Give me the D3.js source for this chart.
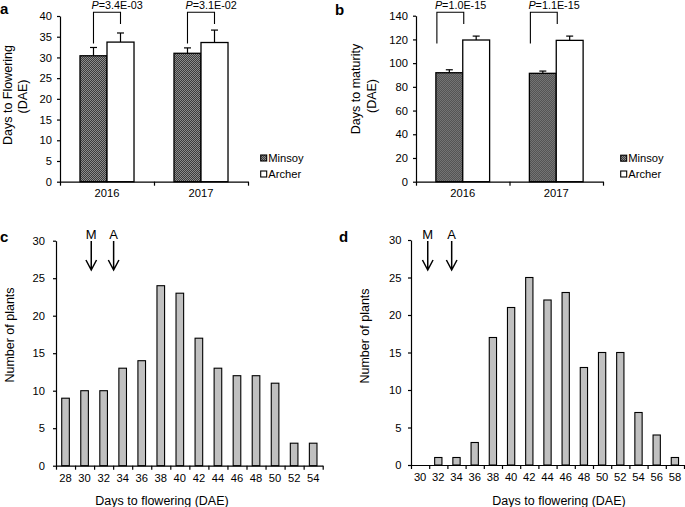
<!DOCTYPE html>
<html>
<head>
<meta charset="utf-8">
<script src="https://cdn.jsdelivr.net/npm/d3@7"></script>
<style>
  body { margin: 0; background: #fff; }
  svg { display: block; font-family: "Liberation Sans", Arial, sans-serif; }
  .axis path, .axis line { stroke: #000; stroke-width: 1.2; }
  .axis text { fill: #000; }
</style>
</head>
<body>
<div id="chart"></div>
<script>
// ---- data ----
const years = ["2016", "2017"];
const cultivars = ["Minsoy", "Archer"];

// panel a: days to flowering
const flowerMinsoy = [30.4, 31.0];
const flowerMinsoyErr = [2.0, 1.3];
const flowerArcher = [33.7, 33.6];
const flowerArcherErr = [2.2, 3.0];
const flowerP = ["3.4E-03", "3.1E-02"];

// panel b: days to maturity
const maturityMinsoy = [91.9, 91.4];
const maturityMinsoyErr = [2.5, 1.9];
const maturityArcher = [119.5, 119.2];
const maturityArcherErr = [3.3, 3.6];
const maturityP = ["1.0E-15", "1.1E-15"];

// panel c / d: histograms of days to flowering
const binsC = [28, 30, 32, 34, 36, 38, 40, 42, 44, 46, 48, 50, 52, 54];
const countsC = [9, 10, 10, 13, 14, 24, 23, 17, 13, 12, 12, 11, 3, 3];
const binsD = [30, 32, 34, 36, 38, 40, 42, 44, 46, 48, 50, 52, 54, 56, 58];
const countsD = [0, 1, 1, 3, 17, 21, 25, 22, 23, 13, 15, 15, 7, 4, 1];

// parent means marked by arrows
const parentLabels = ["M", "A"];
const parentsC = [30.7, 33.05];
const parentsD = [30.84, 33.47];

const W = 685, H = 507;
const svg = d3.select("#chart").append("svg")
  .attr("width", W)
  .attr("height", H);

// checkered fill used for Minsoy
const defs = svg.append("defs");
const pat = defs.append("pattern")
  .attr("id", "checker")
  .attr("width", 2).attr("height", 2)
  .attr("patternUnits", "userSpaceOnUse");
pat.append("rect").attr("width", 2).attr("height", 2).attr("fill", "#3c3c3c");
pat.append("rect").attr("width", 1).attr("height", 1).attr("fill", "#8c8c8c");
pat.append("rect").attr("x", 1).attr("y", 1).attr("width", 1).attr("height", 1).attr("fill", "#8c8c8c");

const fills = { Minsoy: "url(#checker)", Archer: "#fff" };
const tickFont = 11.2;

function panelLetter(txt, x, y) {
  svg.append("text")
    .attr("x", x).attr("y", y)
    .attr("font-size", 15).attr("font-weight", "bold")
    .text(txt);
}

function groupedPanel(o) {
  const g = svg.append("g").attr("transform", `translate(${o.left},${o.top})`);
  const w = o.width, h = o.height;

  const x0 = d3.scaleBand().domain(years).range([0, w]).padding(0);
  const x1 = d3.scaleBand().domain(cultivars).range([0, x0.bandwidth()])
    .paddingInner(0).paddingOuter(0.74);
  const y = d3.scaleLinear().domain([0, o.max]).range([h, 0]);

  const rows = [];
  years.forEach((yr, i) => {
    rows.push({ year: yr, cv: "Minsoy", v: o.minsoy[i], e: o.minsoyErr[i] });
    rows.push({ year: yr, cv: "Archer", v: o.archer[i], e: o.archerErr[i] });
  });

  // error bars (upper only, drawn behind the bars)
  const eb = g.selectAll("g.err").data(rows).enter().append("g")
    .attr("stroke", "#000").attr("stroke-width", 1.2);
  eb.append("line")
    .attr("x1", d => x0(d.year) + x1(d.cv) + x1.bandwidth() / 2)
    .attr("x2", d => x0(d.year) + x1(d.cv) + x1.bandwidth() / 2)
    .attr("y1", d => y(d.v))
    .attr("y2", d => y(d.v + d.e));
  eb.append("line")
    .attr("x1", d => x0(d.year) + x1(d.cv) + x1.bandwidth() / 2 - 3.5)
    .attr("x2", d => x0(d.year) + x1(d.cv) + x1.bandwidth() / 2 + 3.5)
    .attr("y1", d => y(d.v + d.e))
    .attr("y2", d => y(d.v + d.e));

  g.selectAll("rect.bar").data(rows).enter().append("rect")
    .attr("x", d => x0(d.year) + x1(d.cv))
    .attr("y", d => y(d.v))
    .attr("width", x1.bandwidth())
    .attr("height", d => h - y(d.v))
    .attr("fill", d => fills[d.cv])
    .attr("stroke", "#000")
    .attr("stroke-width", 1.3);

  // axes
  g.append("g").attr("class", "axis")
    .call(d3.axisLeft(y).tickValues(d3.range(0, o.max + 1, o.step))
      .tickSize(3).tickPadding(5).tickSizeOuter(0))
    .call(a => a.selectAll("text").attr("font-size", tickFont));

  const xb = d3.scaleLinear().domain([0, years.length]).range([0, w]);
  g.append("g").attr("class", "axis")
    .attr("transform", `translate(0,${h})`)
    .call(d3.axisBottom(xb).tickValues(d3.range(years.length + 1))
      .tickFormat("").tickSize(4).tickSizeOuter(0));
  g.append("g").attr("class", "axis")
    .attr("transform", `translate(0,${h})`)
    .call(d3.axisBottom(x0).tickSize(0).tickPadding(7))
    .call(a => a.select(".domain").remove())
    .call(a => a.selectAll("text").attr("font-size", tickFont));

  // P value brackets
  years.forEach((yr, i) => {
    const xl = x0(yr) + x1("Minsoy") + o.bracketL;
    const xr = x0(yr) + x1("Archer") + o.bracketR;
    g.append("path")
      .attr("d", `M${xl},${o.legL - o.top}V${12.3 - o.top}H${xr}V${24 - o.top}`)
      .attr("fill", "none").attr("stroke", "#000").attr("stroke-width", 1.1);
    const t = g.append("text")
      .attr("x", xl - 2).attr("y", 8.8 - o.top)
      .attr("font-size", 10.8);
    t.append("tspan").attr("font-style", "italic").text("P");
    t.append("tspan").text("=" + o.p[i]);
  });

  // y title (two lines)
  o.ytitle.forEach((line, i) => {
    svg.append("text")
      .attr("transform", `translate(${o.ytx[i]},${o.yty[i]}) rotate(-90)`)
      .attr("text-anchor", "middle")
      .attr("font-size", 12.5)
      .text(line);
  });

  // legend
  cultivars.forEach((cv, i) => {
    const ly = o.legY[i];
    svg.append("rect")
      .attr("x", o.legX).attr("y", ly - 3)
      .attr("width", 6).attr("height", 6)
      .attr("fill", fills[cv]).attr("stroke", "#000").attr("stroke-width", 1.1);
    svg.append("text")
      .attr("x", o.legX + 7.5).attr("y", ly + 4)
      .attr("font-size", tickFont)
      .text(cv);
  });
}

function histPanel(o) {
  const g = svg.append("g").attr("transform", `translate(${o.left},${o.top})`);
  const w = o.width, h = o.height;
  const x = d3.scaleBand().domain(o.bins).range([0, w]).paddingInner(0.6).paddingOuter(0.3);
  const y = d3.scaleLinear().domain([0, 30]).range([h, 0]);

  g.selectAll("rect").data(o.bins).enter().append("rect")
    .attr("x", d => x(d))
    .attr("y", (d, i) => y(o.counts[i]))
    .attr("width", x.bandwidth())
    .attr("height", (d, i) => h - y(o.counts[i]))
    .attr("fill", "#c0c0c0")
    .attr("stroke", "#000")
    .attr("stroke-width", 1.1)
    .attr("display", (d, i) => o.counts[i] > 0 ? null : "none");

  g.append("g").attr("class", "axis")
    .call(d3.axisLeft(y).tickValues(d3.range(0, 31, 5))
      .tickSize(3).tickPadding(o.ypad).tickSizeOuter(0))
    .call(a => a.selectAll("text").attr("font-size", tickFont));

  const xb = d3.scaleLinear().domain([0, o.bins.length]).range([0, w]);
  g.append("g").attr("class", "axis")
    .attr("transform", `translate(0,${h})`)
    .call(d3.axisBottom(xb).tickValues(d3.range(o.bins.length + 1))
      .tickFormat("").tickSize(4).tickSizeOuter(0));
  g.append("g").attr("class", "axis")
    .attr("transform", `translate(0,${h})`)
    .call(d3.axisBottom(x).tickSize(0).tickPadding(8))
    .call(a => a.select(".domain").remove())
    .call(a => a.selectAll("text").attr("font-size", tickFont));

  // arrows for parent means
  const first = o.bins[0], last = o.bins[o.bins.length - 1];
  const xv = d3.scaleLinear().domain([first, last])
    .range([x(first) + x.bandwidth() / 2, x(last) + x.bandwidth() / 2]);
  o.parents.forEach((v, i) => {
    const px = xv(v);
    const ay0 = 241 - o.top, ay1 = 270 - o.top;
    g.append("path")
      .attr("d", `M${px},${ay0}V${ay1}M${px - 5.3},${ay1 - 10}L${px},${ay1}L${px + 5.3},${ay1 - 10}`)
      .attr("fill", "none").attr("stroke", "#000").attr("stroke-width", 1.5);
    g.append("text")
      .attr("x", px).attr("y", 238.5 - o.top)
      .attr("text-anchor", "middle")
      .attr("font-size", 13)
      .text(parentLabels[i]);
  });

  svg.append("text")
    .attr("transform", `translate(${o.ytx},${o.yty}) rotate(-90)`)
    .attr("text-anchor", "middle")
    .attr("font-size", 12.5)
    .text("Number of plants");
  svg.append("text")
    .attr("x", o.xtx).attr("y", 504.5)
    .attr("text-anchor", "middle")
    .attr("font-size", 12.5)
    .text("Days to flowering (DAE)");
}

groupedPanel({
  left: 60, top: 16, width: 188, height: 165.7, max: 40, step: 5,
  minsoy: flowerMinsoy, minsoyErr: flowerMinsoyErr,
  archer: flowerArcher, archerErr: flowerArcherErr, p: flowerP,
  bracketL: 13.5, bracketR: 13.5, legL: 43.5,
  ytitle: ["Days to Flowering", "(DAE)"], ytx: [11.5, 27], yty: [95, 96.5],
  legX: 260.7, legY: [158, 174]
});

groupedPanel({
  left: 416, top: 15.7, width: 187, height: 166, max: 140, step: 20,
  minsoy: maturityMinsoy, minsoyErr: maturityMinsoyErr,
  archer: maturityArcher, archerErr: maturityArcherErr, p: maturityP,
  bracketL: 1, bracketR: 1, legL: 43.5,
  ytitle: ["Days to maturity", "(DAE)"], ytx: [360, 375.5], yty: [89, 96],
  legX: 620.7, legY: [158.2, 174]
});

histPanel({
  left: 56, top: 240.7, width: 266.7, height: 225,
  bins: binsC, counts: countsC, parents: parentsC, ypad: 8,
  ytx: 13.5, yty: 335, xtx: 162
});

histPanel({
  left: 411, top: 240, width: 273, height: 225,
  bins: binsD, counts: countsD, parents: parentsD, ypad: 6.5,
  ytx: 368.5, yty: 336, xtx: 559
});

panelLetter("a", 0, 14);
panelLetter("b", 335, 15);
panelLetter("c", 0, 241.5);
panelLetter("d", 339, 241.5);
</script>
</body>
</html>
